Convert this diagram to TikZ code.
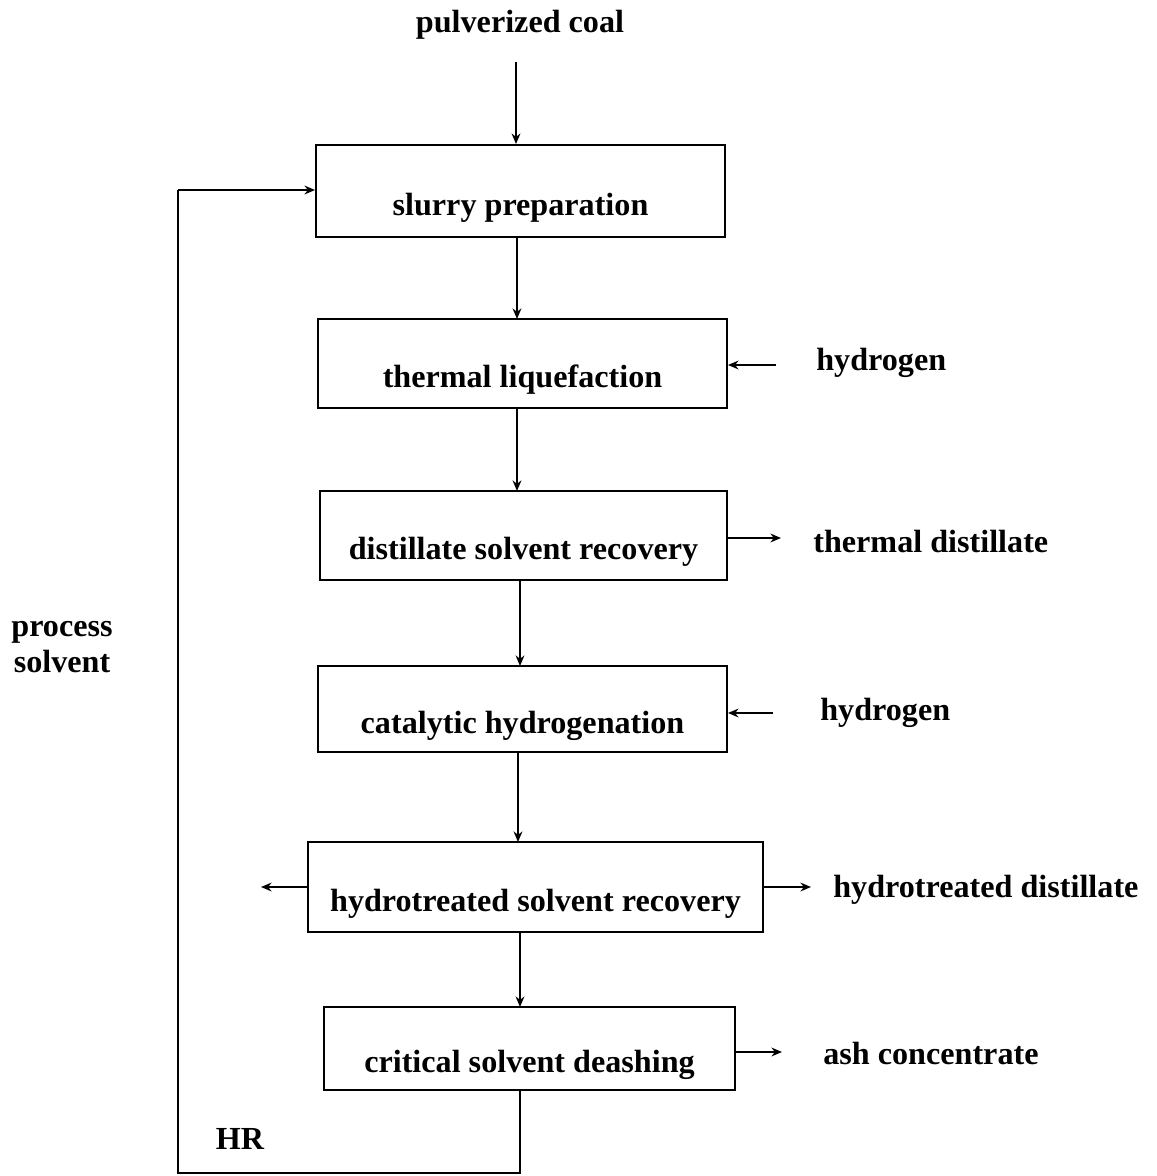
\documentclass[tikz,border=0pt]{standalone}
\usepackage{fontspec}
\setmainfont{Liberation Serif}
\usepackage{tikz}
\usetikzlibrary{arrows.meta}

\tikzset{
  unit/.style={draw, line width=1.1pt, font=\fontsize{18.3}{20}\selectfont\bfseries,
    text height=30pt, text depth=2.5pt, inner sep=0pt},
  stream/.style={font=\fontsize{18.3}{20}\selectfont\bfseries, inner sep=0pt},
  flow/.style={line width=1.1pt, -{Stealth[length=6pt,width=5pt]}},
  pipe/.style={line width=1.1pt}
}

\begin{document}
\begin{tikzpicture}[
    x=0.02cm,   % 1 Einheit = 1 Pixel
    y=-0.02cm
  ]
  \useasboundingbox (0,0) rectangle (1156,1176);

  % Prozessstufen
  \node[unit, minimum width=409*0.02cm, minimum height=92*0.02cm] (slurry) at (520.5,191) {slurry preparation};
  \node[unit, minimum width=409*0.02cm, minimum height=89*0.02cm] (liquef) at (522.5,363.5) {thermal liquefaction};
  \node[unit, minimum width=407*0.02cm, minimum height=89*0.02cm] (distrec) at (523.5,535.5) {distillate solvent recovery};
  \node[unit, minimum width=409*0.02cm, minimum height=86*0.02cm] (cathyd) at (522.5,709) {catalytic hydrogenation};
  \node[unit, minimum width=455*0.02cm, minimum height=90*0.02cm] (hydrec) at (535.5,887) {hydrotreated solvent recovery};
  \node[unit, minimum width=411*0.02cm, minimum height=83*0.02cm] (deash) at (529.5,1048.5) {critical solvent deashing};

  % Ein- und Ausgaenge
  \node[stream] (coal) at (520,25) {pulverized coal};
  \node[stream, anchor=west] (hydro1) at (816,363) {hydrogen};
  \node[stream, anchor=west] (thdist) at (813,541) {thermal distillate};
  \node[stream, anchor=west] (hydro2) at (820,713) {hydrogen};
  \node[stream, anchor=west] (htdist) at (833,890) {hydrotreated distillate};
  \node[stream, anchor=west] (ash) at (823,1053) {ash concentrate};
  \node[stream, align=center] (procsolv) at (62,647) {process\\solvent};
  \node[stream] (hr) at (240,1139) {HR};

  \coordinate (coalin) at (516,62);
  \coordinate (h1in) at (776,365);
  \coordinate (thout) at (781,538);
  \coordinate (h2in) at (773,713);
  \coordinate (htout) at (811,887);
  \coordinate (hrout) at (261,887);
  \coordinate (ashout) at (782,1052);
  \coordinate (botR) at (520,1173);
  \coordinate (botL) at (178,1173);
  \coordinate (topL) at (178,190);

  % Hauptstrang
  \draw[flow] (coalin) -- (coalin |- slurry.north);
  \draw[flow] (517,237) -- (517,319);
  \draw[flow] (517,408) -- (517,491);
  \draw[flow] (520,580) -- (520,666);
  \draw[flow] (518,752) -- (518,842);
  \draw[flow] (520,932) -- (520,1007);

  % Seitenstroeme
  \draw[flow] (h1in) -- (h1in -| liquef.east);
  \draw[flow] (distrec.east |- thout) -- (thout);
  \draw[flow] (h2in) -- (h2in -| cathyd.east);
  \draw[flow] (hydrec.east) -- (htout);
  \draw[flow] (hydrec.west) -- (hrout);
  \draw[flow] (deash.east |- ashout) -- (ashout);

  % Rueckfuehrung Loesungsmittel
  \draw[pipe] (botR |- deash.south) -- (botR) -- (botL) -- (topL);
  \draw[flow] (topL) -- (topL -| slurry.west);
\end{tikzpicture}
\end{document}
